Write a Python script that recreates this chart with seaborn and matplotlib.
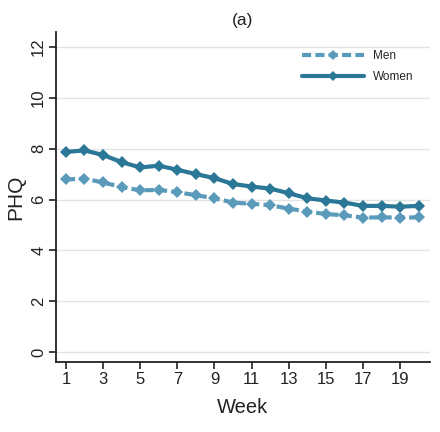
import matplotlib
matplotlib.use("Agg")
import matplotlib.pyplot as plt
import seaborn as sns
import pandas as pd

weeks = list(range(1, 21))
women = [7.87, 7.93, 7.75, 7.47, 7.26, 7.33, 7.17, 7.00, 6.84, 6.61,
         6.51, 6.43, 6.25, 6.05, 5.96, 5.88, 5.75, 5.75, 5.72, 5.75]
men = [6.79, 6.82, 6.67, 6.49, 6.36, 6.38, 6.29, 6.17, 6.05, 5.88,
       5.83, 5.78, 5.64, 5.53, 5.43, 5.38, 5.29, 5.30, 5.29, 5.30]
yticks = [0, 2, 4, 6, 8, 10, 12]
xticks = [1, 3, 5, 7, 9, 11, 13, 15, 17, 19]

sns.set_theme(style="white")
plt.rcParams['font.family'] = ['Liberation Sans', 'DejaVu Sans']

df = pd.DataFrame({
    "Week": weeks * 2,
    "PHQ": men + women,
    "Sex": ["Men"] * len(weeks) + ["Women"] * len(weeks),
})

fig = plt.figure(figsize=(4.4, 4.32), dpi=100)
ax = fig.add_axes([0.127, 0.161, 0.85, 0.766])

c_men = "#5a9bbb"
c_women = "#2b7797"

sns.lineplot(data=df[df.Sex == "Men"], x="Week", y="PHQ", ax=ax, color=c_men,
             linewidth=3, linestyle=(0, (2.2, 1.0)), marker="D", markersize=6.5,
             markeredgewidth=0, label="Men")
sns.lineplot(data=df[df.Sex == "Women"], x="Week", y="PHQ", ax=ax, color=c_women,
             linewidth=3, marker="D", markersize=6.5, markeredgewidth=0, label="Women")

ax.set_xlim(0.46, 20.6)
ax.set_ylim(-0.4, 12.6)
ax.set_yticks(yticks)
ax.set_xticks(xticks)
ax.set_yticklabels([str(v) for v in yticks], rotation=90, va="center")
ax.yaxis.grid(True, color="#e3e3e3", linewidth=1)
ax.xaxis.grid(False)
for s in ["top", "right"]:
    ax.spines[s].set_visible(False)
for s in ["left", "bottom"]:
    ax.spines[s].set_color("#222222")
    ax.spines[s].set_linewidth(1.3)
ax.tick_params(axis="both", which="both", direction="out", length=5, width=1.2,
               color="#222222", labelsize=12, labelcolor="#222222", left=True, bottom=True, pad=2)
ax.set_xlabel("Week", fontsize=14.5, color="#222222", labelpad=8)
ax.set_ylabel("PHQ", fontsize=15, color="#222222", labelpad=4)
ax.set_title("(a)", fontsize=12.5, color="#222222", pad=5)

leg = ax.legend(loc="upper right", frameon=False, fontsize=8.5, handlelength=5.2,
                bbox_to_anchor=(0.985, 0.975), labelspacing=0.75, markerscale=0.8,
                handletextpad=0.8)

fig.savefig("out.png", dpi=100, facecolor="white")
